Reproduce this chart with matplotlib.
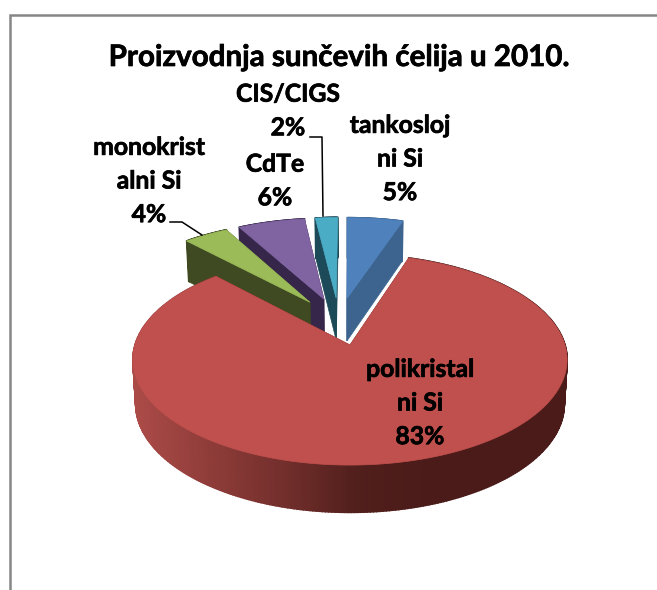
import matplotlib
matplotlib.use('Agg')
import matplotlib.pyplot as plt
from matplotlib.colors import LinearSegmentedColormap
import matplotlib.patheffects as pe
import numpy as np

# udjeli tehnologija, u smjeru kazaljke od vrha
names = ['tankosloj\nni Si', 'polikristal\nni Si', 'monokrist\nalni Si', 'CdTe', 'CIS/CIGS']
shares = [5, 83, 4, 6, 2]
tops = ['#4f81bd', '#c0504d', '#9bbb59', '#8064a2', '#4bacc6']
cuts = ['#3c648f', '#5a2320', '#3f4a22', '#35264a', '#1d4a58']
label_xy = [(400, 159), (420, 403), (149, 181), (275, 181), (288, 111)]

# parametri 3D prikaza
X0, Y0 = 350, 345
R, S, K = 215, 103.5, 0.138
DEPTH = 44
EXPLODE = 0.245


def project(px, py, lower=False):
    w = 1 + K * py
    x = R * px / w
    y = Y0 - S * py / w
    if lower:
        x = x * 0.987
        y = y + DEPTH / (1 + 0.5 * K * py)
    return X0 + x, y


def direction(a):
    return np.sin(np.radians(a)), np.cos(np.radians(a))


plt.rcParams['font.family'] = ['Lato', 'DejaVu Sans']
fig = plt.figure(figsize=(6.57, 5.90), dpi=100)
ax = fig.add_axes([0, 0, 1, 1])
ax.set_xlim(0, 657)
ax.set_ylim(590, 0)
ax.axis('off')

# okvir grafikona
ax.plot([10, 10, 657], [590, 15, 15], color='#868686', lw=1.8, solid_joinstyle='miter')

edges = np.cumsum([0] + shares) * 3.6
mids = (edges[:-1] + edges[1:]) / 2
red_dir = direction(mids[1])
side_map = LinearSegmentedColormap.from_list(
    'side', ['#ab4b48', '#8f3c39', '#732f2c', '#511f1c', '#4a1b19'])

for i in [0, 4, 3, 2, 1]:
    d = direction(mids[i])
    ox = EXPLODE * (d[0] - red_dir[0])
    oy = EXPLODE * (d[1] - red_dir[1])
    t = np.linspace(edges[i], edges[i + 1], 400 if i == 1 else 60)
    arc_x = np.sin(np.radians(t)) + ox
    arc_y = np.cos(np.radians(t)) + oy

    # rezne plohe
    for j in [0, -1]:
        px = np.array([ox, arc_x[j]])
        py = np.array([oy, arc_y[j]])
        ux, uy = project(px, py)
        lx, ly = project(px, py, lower=True)
        ax.fill(np.r_[ux, lx[::-1]], np.r_[uy, ly[::-1]], color=cuts[i], lw=0.5)

    # vanjski plašt
    ux, uy = project(arc_x, arc_y)
    lx, ly = project(arc_x, arc_y, lower=True)
    for j in range(len(t) - 1):
        if i == 1:
            c = side_map(np.clip((ux[j] - 135) / 431 * 1.45, 0, 1))
        else:
            c = cuts[i]
        ax.fill([ux[j], ux[j + 1], lx[j + 1], lx[j]], [uy[j], uy[j + 1], ly[j + 1], ly[j]],
                color=c, lw=1.2)

    # gornja ploha
    tx, ty = project(np.r_[ox, arc_x], np.r_[oy, arc_y])
    ax.fill(tx, ty, color=tops[i], lw=0.5)

# linije do oznaka
ax.plot([310, 322, 323], [137, 137, 216], color='black', lw=1.1)
ax.plot([170, 182, 202], [222, 222, 235], color='black', lw=1.1)

# malo deblji bold
thick = [pe.withStroke(linewidth=0.5, foreground='black')]
ax.text(339, 57, 'Proizvodnja sunčevih ćelija u 2010.', ha='center', va='center',
        fontsize=21.3, fontweight='bold', path_effects=thick)
for name, share, xy in zip(names, shares, label_xy):
    ax.text(xy[0], xy[1], '%s\n%d%%' % (name, share), ha='center', va='center',
            fontsize=17.8, fontweight='bold', linespacing=1.56, path_effects=thick)

fig.savefig('out.png', dpi=100)
